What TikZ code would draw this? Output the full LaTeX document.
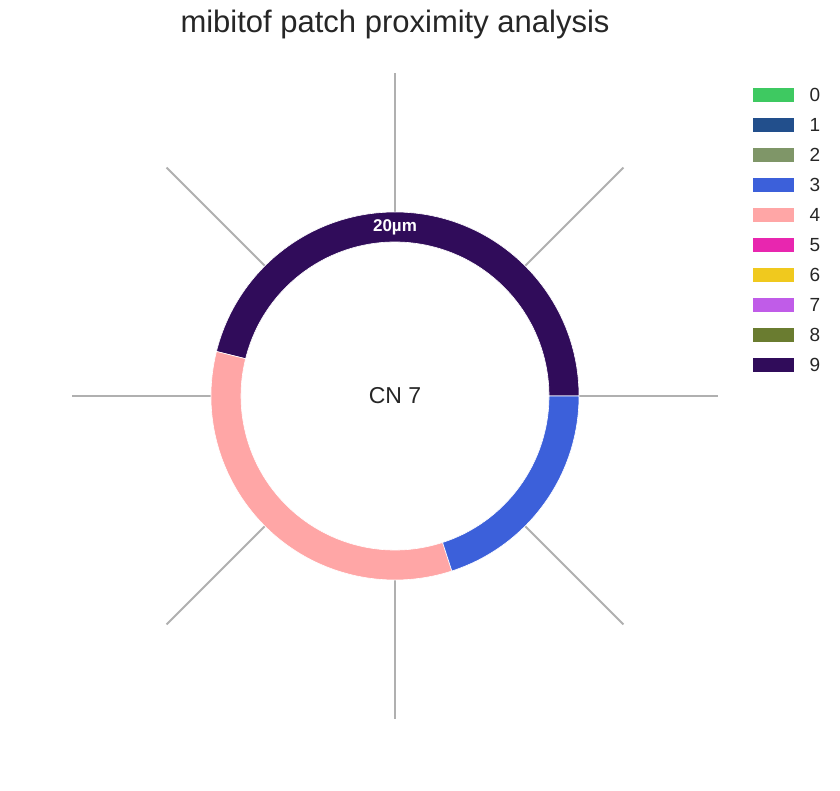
\documentclass[tikz,border=0pt]{standalone}
\usepackage{fontspec}
\setmainfont{Liberation Sans}
\usetikzlibrary{positioning}
\definecolor{cn0}{RGB}{62,201,97}
\definecolor{cn1}{RGB}{34,79,140}
\definecolor{cn2}{RGB}{127,150,104}
\definecolor{cn3}{RGB}{60,96,218}
\definecolor{cn4}{RGB}{255,166,166}
\definecolor{cn5}{RGB}{232,38,175}
\definecolor{cn6}{RGB}{240,201,30}
\definecolor{cn7}{RGB}{192,92,232}
\definecolor{cn8}{RGB}{106,124,48}
\definecolor{cn9}{RGB}{48,12,90}
\definecolor{spoke}{RGB}{176,176,176}
\definecolor{ink}{RGB}{38,38,38}
\tikzstyle{spokeline} = [spoke, line width=2pt]
\tikzstyle{wedge} = [draw=white, line width=0.6pt]
\tikzstyle{patch} = [minimum width=41pt, minimum height=14pt, inner sep=0pt]
\tikzstyle{lbl} = [font=\fontsize{19}{19}\selectfont, text=ink, anchor=west]
\newcommand\ringseg[3]{\fill[#3, wedge] (c) ++(#1:184) arc (#1:#2:184) -- ++(#2:-30) arc (#2:#1:154) -- cycle;}

\begin{document}
\begin{tikzpicture}[x=1pt, y=1pt]
	\useasboundingbox (0,0) rectangle (840,791);

	% Title
	\node (title) [font=\fontsize{31}{31}\selectfont, text=ink] at (395,767) {mibitof patch proximity analysis};

	% Spokes
	\coordinate (c) at (395,395);
	\foreach \a in {0,45,...,315}
		\draw[spokeline] (c) ++(\a:184) -- ++(\a:139);

	% Ring segments
	\ringseg{0}{166}{cn9}
	\ringseg{166}{288}{cn4}
	\ringseg{288}{360}{cn3}

	\node (scale) [font=\bfseries\fontsize{17}{17}\selectfont, text=white] at (395,564) {20µm};
	\node (cn) [font=\fontsize{23}{23}\selectfont, text=ink] at (c) {CN 7};

	% Legend
	\foreach \i in {0,...,9} {
		\node (p\i) [patch, fill=cn\i] at (773.5,696-30*\i) {};
		\node (l\i) [lbl, right=12pt of p\i] {\i};
	}

\end{tikzpicture}
\end{document}
